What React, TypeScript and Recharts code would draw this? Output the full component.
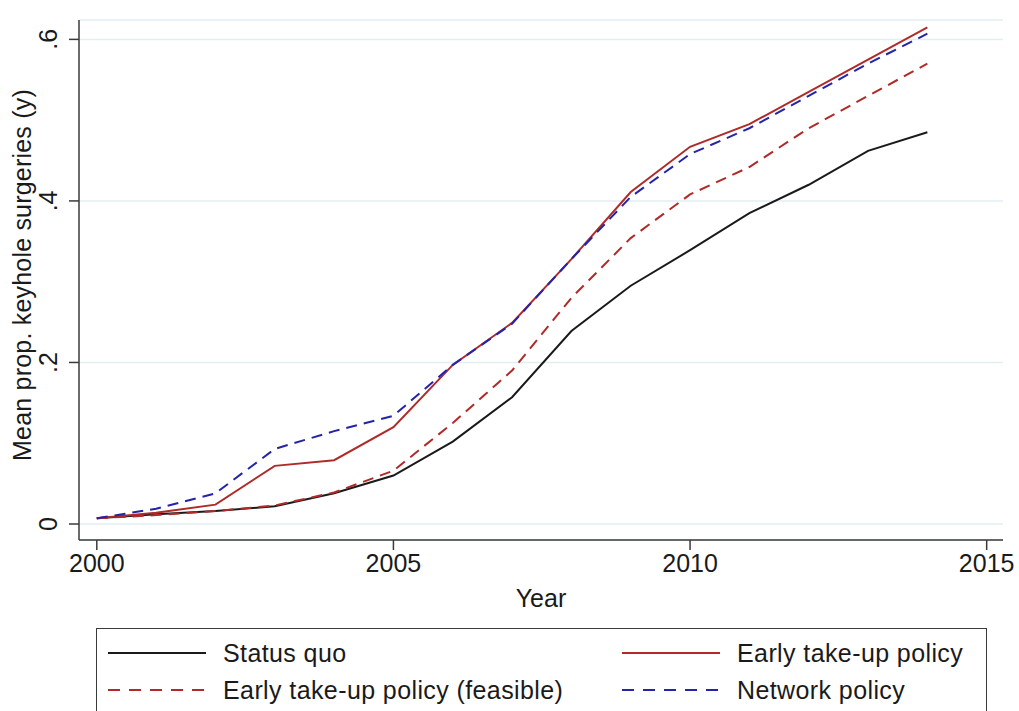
import { CartesianGrid, Line, LineChart, XAxis, YAxis } from "recharts";

const YEARS = [2000, 2001, 2002, 2003, 2004, 2005, 2006, 2007, 2008, 2009, 2010, 2011, 2012, 2013, 2014];

const STATUS_QUO = [0.007, 0.012, 0.016, 0.022, 0.038, 0.06, 0.102, 0.157, 0.239, 0.295, 0.339, 0.385, 0.42, 0.462, 0.485];
const EARLY_TAKE_UP = [0.007, 0.014, 0.024, 0.072, 0.079, 0.12, 0.197, 0.249, 0.328, 0.411, 0.467, 0.495, 0.535, 0.575, 0.615];
const EARLY_FEASIBLE = [0.007, 0.011, 0.016, 0.023, 0.039, 0.066, 0.125, 0.19, 0.28, 0.354, 0.408, 0.442, 0.49, 0.53, 0.57];
const NETWORK = [0.007, 0.019, 0.038, 0.093, 0.115, 0.134, 0.197, 0.248, 0.328, 0.405, 0.458, 0.49, 0.53, 0.57, 0.607];

const X_TICKS = [2000, 2005, 2010, 2015];
const Y_TICKS = [0, 0.2, 0.4, 0.6];
const Y_TICK_LABELS = ["0", ".2", ".4", ".6"];

const FONT = '"Liberation Sans", Arial, sans-serif';
const TEXT = "#1a1a1a";
const AXIS = "#3a3a3a";

const SERIES = [
  { key: "statusQuo", name: "Status quo", color: "#1a1a1a", dash: undefined },
  { key: "earlyTakeUp", name: "Early take-up policy", color: "#b02a2a", dash: undefined },
  { key: "earlyFeasible", name: "Early take-up policy (feasible)", color: "#b02a2a", dash: "11 7" },
  { key: "network", name: "Network policy", color: "#2424a8", dash: "11 7" },
];

const data = YEARS.map((year, i) => ({
  year,
  statusQuo: STATUS_QUO[i],
  earlyTakeUp: EARLY_TAKE_UP[i],
  earlyFeasible: EARLY_FEASIBLE[i],
  network: NETWORK[i],
}));

function XTick({ x, y, payload }: any) {
  return (
    <text x={x} y={y} dy={22} textAnchor="middle" fill={TEXT} fontSize={25} fontFamily={FONT}>
      {payload.value}
    </text>
  );
}

function YTick({ x, y, payload }: any) {
  const idx = Y_TICKS.indexOf(payload.value);
  return (
    <g transform={`translate(${x - 12},${y})`}>
      <text transform="rotate(-90)" textAnchor="middle" fill={TEXT} fontSize={25} fontFamily={FONT}>
        {idx >= 0 ? Y_TICK_LABELS[idx] : payload.value}
      </text>
    </g>
  );
}

function YLabel({ viewBox }: any) {
  const cy = viewBox.y + viewBox.height / 2 - 5;
  return (
    <g transform={`translate(31,${cy})`}>
      <text transform="rotate(-90)" textAnchor="middle" fill={TEXT} fontSize={25} fontFamily={FONT} letterSpacing={0.2}>
        Mean prop. keyhole surgeries (y)
      </text>
    </g>
  );
}

function LegendBox() {
  const cols = [
    [SERIES[0], SERIES[2]],
    [SERIES[1], SERIES[3]],
  ];
  return (
    <div
      style={{
        position: "absolute",
        left: 96,
        top: 628,
        width: 891,
        height: 92,
        border: `1.5px solid ${AXIS}`,
        boxSizing: "border-box",
        fontFamily: FONT,
        fontSize: 25,
        letterSpacing: 0.4,
        color: TEXT,
      }}
    >
      {cols.map((col, c) =>
        col.map((s, r) => (
          <div
            key={s.key}
            style={{
              position: "absolute",
              left: c === 0 ? 10 : 524,
              top: r === 0 ? 9 : 46,
              display: "flex",
              alignItems: "center",
              whiteSpace: "nowrap",
            }}
          >
            <svg width={100} height={30} style={{ marginRight: 16 }}>
              <line x1={1} y1={15} x2={99} y2={15} stroke={s.color} strokeWidth={2} strokeDasharray={s.dash ? "12 9" : undefined} />
            </svg>
            <span>{s.name}</span>
          </div>
        ))
      )}
    </div>
  );
}

export default function App() {
  return (
    <div style={{ position: "absolute", left: 0, top: 0, width: 1019, height: 711, background: "#fff", overflow: "hidden" }}>
      <LineChart width={1019} height={620} data={data} margin={{ top: 20, right: 16, bottom: 5, left: 8 }}>
        <CartesianGrid vertical={false} stroke="#e2eef0" strokeWidth={1.5} />
        <XAxis
          dataKey="year"
          type="number"
          domain={[1999.7, 2015.275]}
          allowDataOverflow
          ticks={X_TICKS}
          tick={<XTick />}
          tickSize={10}
          tickMargin={0}
          height={75}
          stroke={AXIS}
          strokeWidth={1.5}
          label={{ value: "Year", position: "insideBottom", offset: 8, fill: TEXT, fontSize: 25, fontFamily: FONT }}
        />
        <YAxis
          type="number"
          domain={[-0.0198, 0.624]}
          allowDataOverflow
          ticks={Y_TICKS}
          tick={<YTick />}
          tickSize={10}
          tickMargin={0}
          width={71}
          stroke={AXIS}
          strokeWidth={1.5}
          label={<YLabel />}
        />
        {SERIES.map((s) => (
          <Line
            key={s.key}
            type="linear"
            dataKey={s.key}
            name={s.name}
            stroke={s.color}
            strokeWidth={2}
            strokeDasharray={s.dash}
            dot={false}
            isAnimationActive={false}
          />
        ))}
      </LineChart>
      <LegendBox />
    </div>
  );
}
